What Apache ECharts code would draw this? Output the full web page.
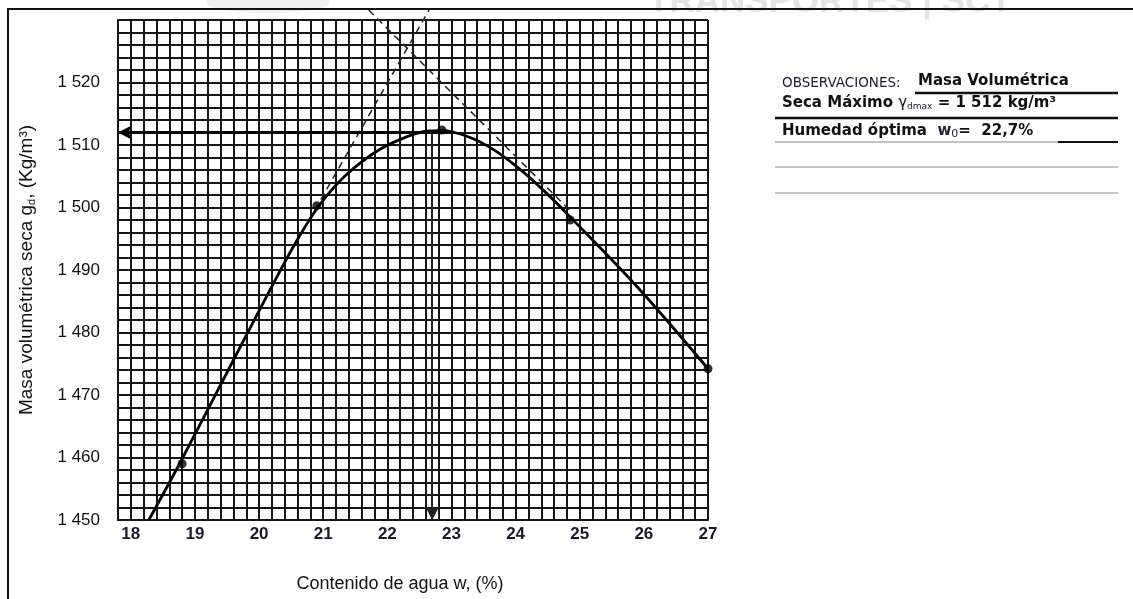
<!DOCTYPE html>
<html>
<head>
<meta charset="utf-8">
<title>Curva de compactación</title>
<script src="https://cdn.jsdelivr.net/npm/echarts@6/dist/echarts.min.js"></script>
<style>
  html, body { margin: 0; padding: 0; background: #fff; }
  #chart { width: 1133px; height: 599px; }
</style>
</head>
<body>
<div id="chart"></div>
<script>
// etiquetas de los ejes
const xLabels = [18, 19, 20, 21, 22, 23, 24, 25, 26, 27];
const yLabels = [1450, 1460, 1470, 1480, 1490, 1500, 1510, 1520];

// puntos de ensaye: contenido de agua (%) y masa volumetrica seca (kg/m3)
const ensayeW = [18.8, 20.9, 22.85, 24.85, 27.0];
const ensayeG = [1459, 1500.3, 1512.4, 1498, 1474.2];

// curva trazada a mano
const curvaW = [18.28, 18.77, 19.55, 20.17, 20.56, 20.9, 21.2, 21.5, 21.9, 22.3, 22.6, 22.85, 23.24, 23.65, 24.07, 24.46, 24.85, 25.94, 27.0];
const curvaG = [1450, 1459.2, 1474.6, 1486.8, 1494.2, 1499.8, 1503.6, 1506.5, 1509.4, 1511.3, 1512.2, 1512.3, 1511.4, 1509.3, 1506.1, 1502.5, 1498.5, 1486.8, 1474.2];

// rectas punteadas (tangentes)
const rectaA = [[20.87, 1499.6], [22.65, 1531.6]];
const rectaB = [[21.71, 1531.6], [24.85, 1499.5]];

// optimo
const wOptima = 22.7;
const gMaxima = 1512;
const wMin = 17.8, wMax = 27.0, gMin = 1450, gMax = 1530;

const chart = echarts.init(document.getElementById('chart'));

const pair = (xs, ys) => xs.map((x, i) => [x, ys[i]]);
const fmtMiles = v => String(v).replace(/(\d)(\d{3})$/, '$1 $2');

const panelFont = 'DejaVu Sans';
const row = (y, text, rich) => ({
    type: 'text', left: 782, top: y - 10,
    style: { text: text, rich: rich, fill: '#111', font: 'bold 15px ' + panelFont }
});
const hline = (x1, x2, y, w, c) => ({
    type: 'line', shape: { x1: x1, y1: y, x2: x2, y2: y },
    style: { stroke: c, lineWidth: w }
});
const gridLine = { show: true, lineStyle: { color: '#151515', width: 2 } };

chart.setOption({
    backgroundColor: '#fff',
    animation: false,
    grid: { left: 118, right: 425, top: 20, bottom: 79 },
    xAxis: {
        type: 'value',
        min: wMin, max: wMax, interval: 0.2,
        name: 'Contenido de agua w, (%)',
        nameLocation: 'middle',
        nameGap: 55,
        nameTextStyle: { fontFamily: 'Liberation Sans', fontSize: 18, color: '#111', padding: [0, 26, 0, 0] },
        axisLine: { lineStyle: { color: '#151515', width: 2 } },
        axisTick: { show: false },
        axisLabel: {
            customValues: xLabels,
            margin: 6,
            fontFamily: 'Liberation Sans', fontWeight: 'bold', fontSize: 17, color: '#1a1a2a'
        },
        splitLine: gridLine
    },
    yAxis: {
        type: 'value',
        min: gMin, max: gMax, interval: 2,
        name: 'Masa volumétrica seca g{sub|d}, (Kg/m³)',
        nameLocation: 'middle',
        nameGap: 81,
        nameRotate: 90,
        nameTextStyle: {
            fontFamily: 'Liberation Sans', fontSize: 19, color: '#111',
            rich: { sub: { fontSize: 11, verticalAlign: 'bottom', padding: [9, 0, 0, 0], fontFamily: 'Liberation Sans', color: '#111' } }
        },
        axisLine: { show: true, lineStyle: { color: '#151515', width: 2 } },
        axisTick: { show: false },
        axisLabel: {
            customValues: yLabels,
            margin: 18,
            formatter: fmtMiles,
            fontFamily: 'Liberation Sans', fontSize: 17, color: '#111'
        },
        splitLine: gridLine
    },
    series: [
        {
            name: 'tangente A', type: 'line', data: rectaA, clip: false,
            symbol: 'none', lineStyle: { color: '#222', width: 1.5, type: [7, 5] }, z: 3
        },
        {
            name: 'tangente B', type: 'line', data: rectaB, clip: false,
            symbol: 'none', lineStyle: { color: '#222', width: 1.5, type: [7, 5] }, z: 3
        },
        {
            name: 'curva', type: 'line', data: pair(curvaW, curvaG), smooth: 0.35,
            symbol: 'none', lineStyle: { color: '#000', width: 2.8 }, z: 4
        },
        {
            name: 'ensayes', type: 'scatter', data: pair(ensayeW, ensayeG),
            symbol: 'circle', symbolSize: 9, itemStyle: { color: '#000' }, z: 5
        },
        {
            name: 'optimo', type: 'line', data: [], z: 4,
            markLine: {
                silent: true,
                symbol: ['none', 'arrow'],
                symbolSize: [11, 14],
                label: { show: false },
                data: [
                    [{ coord: [ensayeW[2], gMaxima], lineStyle: { color: '#000', width: 2.8, type: 'solid' } },
                     { coord: [wMin, gMaxima] }],
                    [{ coord: [wOptima, gMaxima], lineStyle: { color: '#222', width: 2, type: 'solid' } },
                     { coord: [wOptima, gMin] }]
                ]
            }
        }
    ],
    graphic: [
        // marca de agua
        { type: 'ellipse', shape: { cx: 268, cy: 2, rx: 62, ry: 11 }, style: { fill: '#f0f0f0' }, z: -10 },
        { type: 'text', left: 648, top: -15, z: -10,
          style: { text: 'TRANSPORTES | SCT', fill: '#e4e4e4', font: 'bold 35px Liberation Sans' } },
        // marco
        hline(7, 1133, 9, 2, '#111'),
        { type: 'line', shape: { x1: 8, y1: 9, x2: 8, y2: 599 }, style: { stroke: '#111', lineWidth: 2 } },
        // observaciones
        { type: 'text', left: 782, top: 76,
          style: { text: 'OBSERVACIONES:', fill: '#1a1a33', font: '13.5px ' + panelFont } },
        { type: 'text', left: 918, top: 74,
          style: { text: 'Masa Volumétrica', fill: '#111', font: 'bold 15px ' + panelFont } },
        hline(915, 1118, 93, 2.5, '#111'),
        row(106, '{a|Seca Máximo }{g|γ}{s|dmax}{a| = 1 512 kg/m³}', {
            a: { font: 'bold 15px ' + panelFont, fill: '#111' },
            g: { font: '15px ' + panelFont, fill: '#111' },
            s: { font: '9px ' + panelFont, fill: '#223', verticalAlign: 'bottom', padding: [6, 0, 0, 0] }
        }),
        hline(775, 1118, 118, 2.5, '#111'),
        row(134, '{a|Humedad óptima  }{w|w}{s|0}{a|=  22,7%}', {
            a: { font: 'bold 15px ' + panelFont, fill: '#111' },
            w: { font: 'bold 15px ' + panelFont, fill: '#223' },
            s: { font: '11px ' + panelFont, fill: '#223', verticalAlign: 'bottom', padding: [5, 0, 0, 0] }
        }),
        hline(775, 1118, 142, 1, '#888'),
        hline(1058, 1118, 142, 1.8, '#111'),
        hline(775, 1118, 167, 1, '#888'),
        hline(775, 1118, 193, 1, '#888')
    ]
});
</script>
</body>
</html>
